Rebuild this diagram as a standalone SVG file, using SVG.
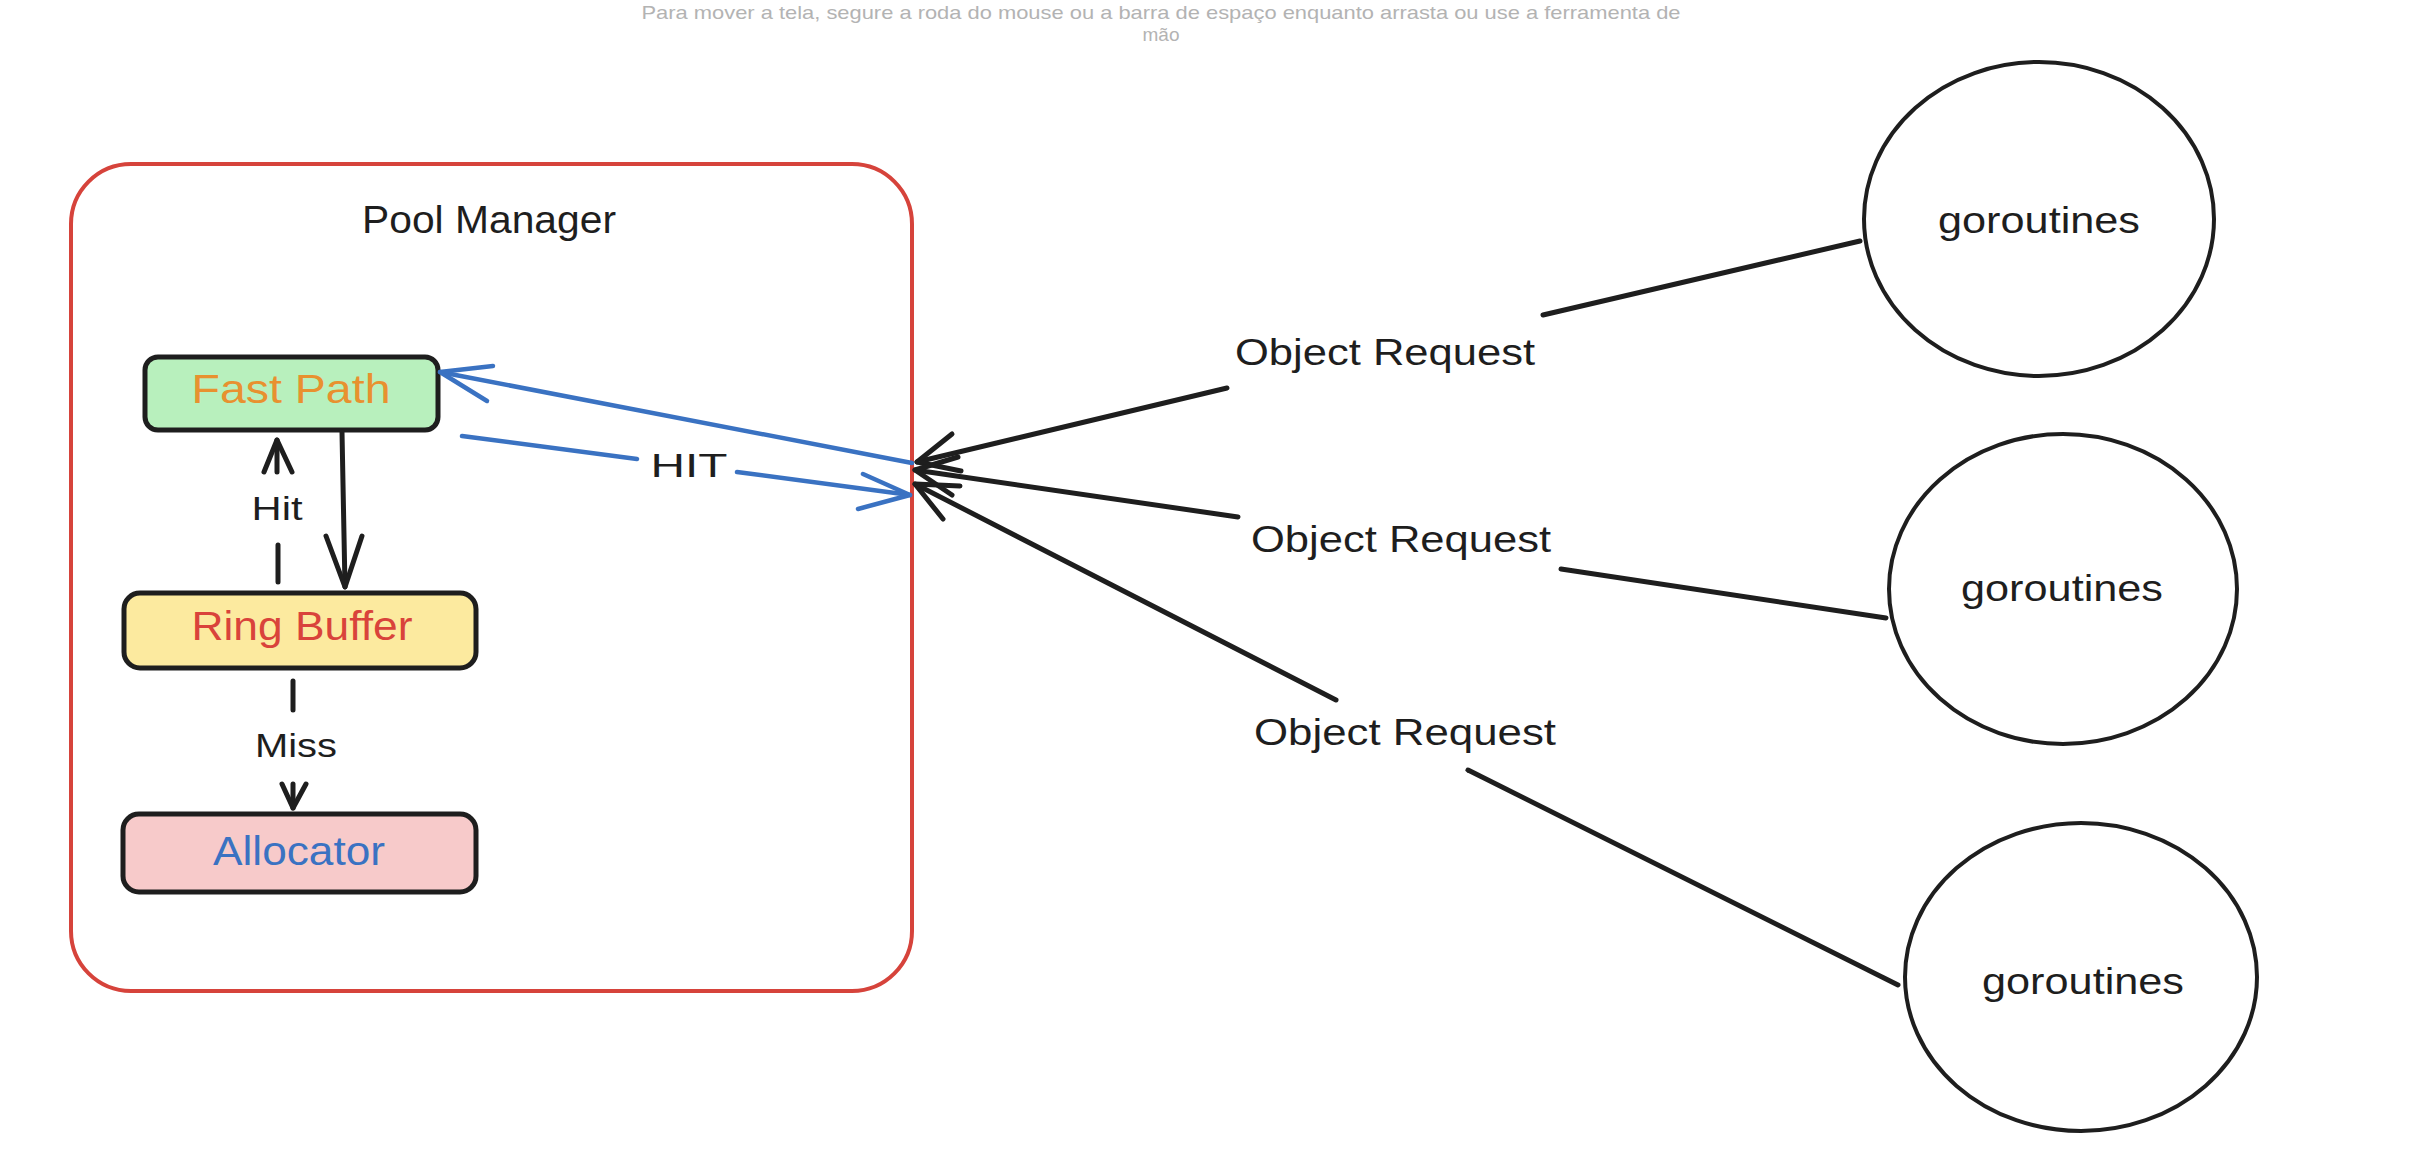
<svg xmlns="http://www.w3.org/2000/svg" width="2436" height="1166" viewBox="0 0 2436 1166">
<defs>
<style>
.hand{font-family:"Liberation Sans","Noto Sans",sans-serif;}
.box{stroke:#1e1e1e;stroke-width:5;}
.lbl{font-family:"Liberation Sans","Noto Sans",sans-serif;font-size:34px;fill:#1e1e1e;text-anchor:middle;}
.req{font-family:"Liberation Sans","Noto Sans",sans-serif;font-size:36px;fill:#1e1e1e;text-anchor:middle;}
.gor{font-family:"Liberation Sans","Noto Sans",sans-serif;font-size:36px;fill:#1e1e1e;text-anchor:middle;}
.blk{stroke:#1e1e1e;stroke-width:5;fill:none;stroke-linecap:round;stroke-linejoin:round;}
.blu{stroke:#3a72c2;stroke-width:4.5;fill:none;stroke-linecap:round;stroke-linejoin:round;}
.ell{fill:#ffffff;stroke:#1e1e1e;stroke-width:4;}
.hint{font-family:"Liberation Sans","Noto Sans",sans-serif;font-size:19px;fill:#b3b3b3;text-anchor:middle;}
</style>
</defs>
<rect width="2436" height="1166" fill="#ffffff"/>

<g id="hint">
<text x="1161" y="19" class="hint" textLength="1039" lengthAdjust="spacingAndGlyphs">Para mover a tela, segure a roda do mouse ou a barra de espaço enquanto arrasta ou use a ferramenta de</text>
<text x="1161" y="41" class="hint">mão</text>
</g>

<g id="pool-manager">
<rect x="71" y="164" width="841" height="827" rx="60" ry="60" fill="none" stroke="#d6433b" stroke-width="4"/>
<text x="489" y="233" class="hand" font-size="38" fill="#1e1e1e" text-anchor="middle" textLength="254" lengthAdjust="spacingAndGlyphs">Pool Manager</text>
</g>

<g id="fast-path">
<rect x="145" y="357" width="293" height="73" rx="13" fill="#b8f0bd" class="box"/>
<text x="291" y="403" class="hand" font-size="40" fill="#e8912f" text-anchor="middle" textLength="199" lengthAdjust="spacingAndGlyphs">Fast Path</text>
</g>

<g id="ring-buffer">
<rect x="124" y="593" width="352" height="75" rx="16" fill="#fcea9f" class="box"/>
<text x="302" y="640" class="hand" font-size="40" fill="#d9433b" text-anchor="middle" textLength="221" lengthAdjust="spacingAndGlyphs">Ring Buffer</text>
</g>

<g id="allocator">
<rect x="123" y="814" width="353" height="78" rx="16" fill="#f7caca" class="box"/>
<text x="299" y="865" class="hand" font-size="40" fill="#3a72c2" text-anchor="middle" textLength="172" lengthAdjust="spacingAndGlyphs">Allocator</text>
</g>

<g id="goroutines-1">
<ellipse cx="2039" cy="219" rx="175" ry="157" class="ell"/>
<text x="2039" y="233" class="gor" textLength="202" lengthAdjust="spacingAndGlyphs">goroutines</text>
</g>
<g id="goroutines-2">
<ellipse cx="2063" cy="589" rx="174" ry="155" class="ell"/>
<text x="2062" y="601" class="gor" textLength="202" lengthAdjust="spacingAndGlyphs">goroutines</text>
</g>
<g id="goroutines-3">
<ellipse cx="2081" cy="977" rx="176" ry="154" class="ell"/>
<text x="2083" y="994" class="gor" textLength="202" lengthAdjust="spacingAndGlyphs">goroutines</text>
</g>

<g id="connectors">
<!-- Fast Path -> Ring Buffer -->
<path class="blk" d="M342 432 L345 587"/>
<path class="blk" d="M326 536 L345 587 L362 536"/>
<!-- Ring Buffer -> Fast Path (Hit, dashed) -->
<path class="blk" stroke-width="6" d="M278 582 L278 545"/>
<path class="blk" stroke-width="6" d="M277 472 L277 440"/>
<path class="blk" stroke-width="6" d="M264 472 L277 440 L292 472"/>
<text x="277" y="520" class="lbl" textLength="51" lengthAdjust="spacingAndGlyphs">Hit</text>
<!-- Ring Buffer -> Allocator (Miss, dashed) -->
<path class="blk" stroke-width="6" d="M293 681 L293 710"/>
<path class="blk" stroke-width="6" d="M293 784 L293 808"/>
<path class="blk" stroke-width="6" d="M282 784 L293 808 L306 784"/>
<text x="296" y="757" class="lbl" textLength="82" lengthAdjust="spacingAndGlyphs">Miss</text>

<!-- blue: pool edge -> Fast Path -->
<path class="blu" d="M912 463 L440 372"/>
<path class="blu" d="M493 366 L440 372 L487 401"/>
<!-- blue: Fast Path -> pool edge (HIT) -->
<path class="blu" d="M462 436 L637 459"/>
<path class="blu" stroke-width="5.5" d="M737 472 L910 495"/>
<path class="blu" d="M863 474 L910 495 L858 509"/>
<text x="689" y="477" class="lbl" textLength="77" lengthAdjust="spacingAndGlyphs">HIT</text>

<!-- goroutines 1 -> pool -->
<path class="blk" stroke-width="5.5" d="M1860 241 L1543 315"/>
<path class="blk" stroke-width="5.5" d="M1227 388 L917 462"/>
<path class="blk" stroke-width="5.5" d="M952 434 L917 462 L961 471"/>
<text x="1385" y="365" class="req" textLength="300" lengthAdjust="spacingAndGlyphs">Object Request</text>
<!-- goroutines 2 -> pool -->
<path class="blk" stroke-width="4.5" d="M1886 618 L1561 569"/>
<path class="blk" stroke-width="5.5" d="M1238 517 L915 470"/>
<path class="blk" stroke-width="5.5" d="M958 457 L915 470 L952 495"/>
<text x="1401" y="552" class="req" textLength="300" lengthAdjust="spacingAndGlyphs">Object Request</text>
<!-- goroutines 3 -> pool -->
<path class="blk" stroke-width="4.5" d="M1898 985 L1468 770"/>
<path class="blk" stroke-width="4.5" d="M1336 700 L915 484"/>
<path class="blk" stroke-width="5" d="M960 486 L915 484 L943 519"/>
<text x="1405" y="745" class="req" textLength="302" lengthAdjust="spacingAndGlyphs">Object Request</text>
</g>
</svg>
